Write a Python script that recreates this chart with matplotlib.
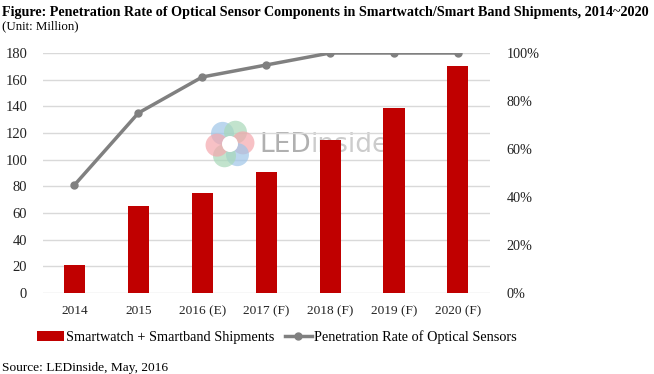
import matplotlib
matplotlib.use("Agg")
import matplotlib.pyplot as plt
from matplotlib.patches import Circle
import numpy as np

years = ["2014", "2015", "2016 (E)", "2017 (F)", "2018 (F)", "2019 (F)", "2020 (F)"]
shipments = [21, 65, 75, 91, 115, 139, 170]
penetration = [45, 75, 90, 95, 100, 100, 100]

plt.rcParams["font.family"] = ["Liberation Serif", "DejaVu Serif"]

W, H = 654, 374
fig = plt.figure(figsize=(W / 100, H / 100), dpi=100)
ax = fig.add_axes([0.065, 0.2166, 0.684, 0.6417])
ax2 = ax.twinx()

x = np.arange(len(years))
bars = ax.bar(x, shipments, width=0.33, color="#c00000", zorder=2,
              label="Smartwatch + Smartband Shipments")
line, = ax2.plot(x, penetration, color="#808080", lw=2.5, marker="o", ms=5,
                 label="Penetration Rate of Optical Sensors", zorder=3)

ax.set_xlim(-0.5, len(years) - 0.5)
ax.set_ylim(0, 180)
ax.set_yticks(range(0, 181, 20))
ax2.set_ylim(0, 100)
ax2.set_yticks(range(0, 101, 20))
ax2.set_yticklabels([f"{v}%" for v in range(0, 101, 20)])
ax.set_xticks(x)
ax.set_xticklabels(years)

ax.grid(axis="y", color="#d9d9d9", lw=1, zorder=0)
for a in (ax, ax2):
    for s in a.spines.values():
        s.set_visible(False)
    a.tick_params(length=0, labelsize=10.5, colors="#222222")
ax.tick_params(axis="x", labelsize=9.6, pad=9)
ax.tick_params(axis="y", pad=11)
ax2.tick_params(axis="y", labelsize=10.2, pad=12)

# watermark logo (decoration only)
logo = fig.add_axes([(230 - 30) / W, (H - 144 - 30) / H, 60 / W, 60 / H])
logo.set_xlim(-30, 30)
logo.set_ylim(-30, 30)
logo.axis("off")
petals = ["#9ec5e8", "#a8d8b9", "#f4a7ad", "#9ec5e8", "#a8d8b9", "#f4a7ad"]
angles = [125, 65, 5, -55, -115, 185]
for c, ang in zip(petals, angles):
    r = np.deg2rad(ang)
    logo.add_patch(Circle((13 * np.cos(r), 13 * np.sin(r)), 11.5, color=c, alpha=0.7, lw=0))
logo.add_patch(Circle((0, 0), 8, color="white", lw=0))

ax.text(3.7, 111, "LED", fontsize=19, color="#b0b0b0", ha="right",
        va="center", family="DejaVu Sans", zorder=1)
ax.text(3.7, 111, "inside", fontsize=19, color="#cccccc", ha="left",
        va="center", family="DejaVu Sans", zorder=1)

fig.legend([bars, line], [bars.get_label(), line.get_label()], loc="center left",
           bbox_to_anchor=(0.057, 0.099), ncol=2, frameon=False, fontsize=10.25,
           handlelength=1.9, columnspacing=0.7, handletextpad=0.15,
           borderaxespad=0, borderpad=0)

fig.text(0.003, 0.985, "Figure: Penetration Rate of Optical Sensor Components in Smartwatch/Smart Band Shipments, 2014~2020",
         fontsize=10.15, fontweight="bold", va="top")
fig.text(0.003, 0.945, "(Unit: Million)", fontsize=9.3, va="top")
fig.text(0.003, 0.0, "Source: LEDinside, May, 2016", fontsize=9.6, va="bottom")

fig.savefig("out.png", dpi=100)
